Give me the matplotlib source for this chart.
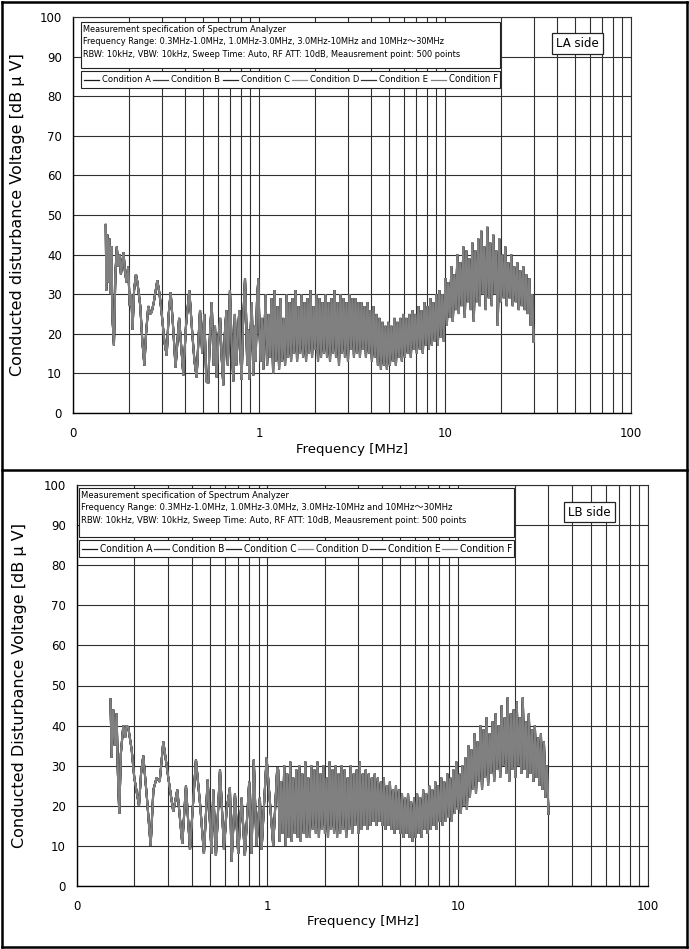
import numpy as np
import matplotlib
matplotlib.use("Agg")
import matplotlib.pyplot as plt
from matplotlib.ticker import FixedLocator, FixedFormatter, NullFormatter
from matplotlib.lines import Line2D
from matplotlib.patches import Rectangle

W, H, DPI = 689, 949, 100

conditions = ["Condition A", "Condition B", "Condition C",
              "Condition D", "Condition E", "Condition F"]
cond_colors = ["#1a1a1a", "#3c3c3c", "#262626", "#8c8c8c", "#333333", "#808080"]

x_ticks = [0.1, 1, 10, 100]
x_tick_labels = ["0", "1", "10", "100"]
y_ticks = list(range(0, 101, 10))

spec_lines = ["Measurement specification of Spectrum Analyzer",
              "Frequency Range: 0.3MHz-1.0MHz, 1.0MHz-3.0MHz, 3.0MHz-10MHz and 10MHz\uff5e30MHz",
              "RBW: 10kHz, VBW: 10kHz, Sweep Time: Auto, RF ATT: 10dB, Meausrement point: 500 points"]

# ---------------- LA side: low-frequency part (turning points, MHz / dBuV)
la_low_freq = [0.150, 0.151, 0.153, 0.155, 0.157, 0.159, 0.161, 0.163, 0.166, 0.169,
               0.172, 0.175, 0.178, 0.181, 0.184, 0.187, 0.190, 0.194, 0.198, 0.202,
               0.206, 0.209, 0.213, 0.218, 0.222, 0.226, 0.230, 0.236, 0.242, 0.247,
               0.254, 0.260, 0.265, 0.272, 0.284, 0.292, 0.300, 0.310, 0.319, 0.327,
               0.335, 0.345, 0.356, 0.372, 0.392, 0.405, 0.422, 0.438, 0.450, 0.462,
               0.472, 0.482, 0.495, 0.508, 0.521, 0.534, 0.545, 0.557, 0.570, 0.580,
               0.592, 0.605, 0.618, 0.630, 0.643, 0.655, 0.668, 0.680, 0.698, 0.712,
               0.728, 0.742, 0.755, 0.770, 0.784, 0.796, 0.807, 0.820, 0.841, 0.852,
               0.864, 0.876, 0.887, 0.900, 0.914, 0.932, 0.945, 0.960, 0.975, 0.992,
               1.005, 1.020, 1.040, 1.055, 1.070]
la_low_db = [47.5, 31, 45, 33, 44, 30, 42, 24, 17, 35,
             42, 37, 40, 35, 38, 40.5, 36, 33, 37, 27,
             30, 21, 31, 35, 33, 30, 27, 18, 12, 20,
             27, 25, 25.5, 28, 33.5, 30, 25, 18, 14.5, 25,
             30.5, 22, 11.5, 24, 9.5, 22, 31, 20, 13, 9,
             18, 26, 15, 25, 8, 7.5, 20, 28, 12, 22,
             9, 19, 24, 14, 7, 20, 26, 12, 31, 18,
             8, 25, 12, 20, 26, 14, 8.5, 22, 34, 25,
             12, 21, 8.5, 20, 28, 9.5, 22, 13, 28, 34,
             22, 13, 24, 11, 21]
# LA side: dense part 1.085-30 MHz, successive peaks and troughs
la_dense_range = (1.085, 30.0)
la_peaks = [30, 25, 29, 31, 27, 29, 24, 30, 28, 29,
            31, 27, 30, 28, 29, 31, 27, 30, 29, 28,
            30, 28, 29, 31, 28, 30, 29, 28, 30, 29,
            29, 28, 28, 27, 28, 26, 27, 25, 24, 23,
            22, 23, 22, 24, 23, 24, 25, 24, 25, 26,
            25, 27, 26, 28, 27, 29, 28, 30, 31, 30,
            34, 33, 37, 35, 40, 38, 42, 41, 39, 43,
            41, 44, 46, 42, 47, 43, 45, 41, 44, 40,
            42, 38, 40, 37, 38, 36, 37, 35, 34, 30]
la_troughs = [12, 14, 10, 13, 11, 13, 12, 14, 13, 15,
              13, 15, 14, 13, 15, 14, 16, 13, 14, 15,
              14, 13, 15, 14, 12, 15, 14, 13, 16, 14,
              15, 14, 16, 14, 15, 13, 14, 12, 11, 12,
              11, 12, 13, 12, 14, 13, 14, 15, 14, 16,
              15, 16, 15, 17, 16, 17, 18, 17, 19, 18,
              22, 24, 23, 26, 25, 27, 24, 28, 26, 23,
              28, 27, 30, 26, 29, 27, 30, 22, 28, 29,
              27, 29, 27, 28, 26, 27, 26, 25, 22, 18]

# ---------------- LB side
lb_low_freq = [0.150, 0.152, 0.155, 0.158, 0.1615, 0.164, 0.1668, 0.170, 0.1751, 0.1790,
               0.1823, 0.186, 0.1937, 0.200, 0.2117, 0.217, 0.2230, 0.233, 0.2437, 0.252,
               0.2620, 0.272, 0.2841, 0.3018, 0.3206, 0.3365, 0.3574, 0.3737, 0.3923, 0.4217,
               0.4440, 0.4645, 0.4857, 0.5097, 0.520, 0.537, 0.564, 0.592, 0.611, 0.636,
               0.649, 0.676, 0.703, 0.733, 0.762, 0.803, 0.826, 0.849, 0.877, 0.914,
               0.933, 0.991, 1.074, 1.127]
lb_low_db = [46.5, 32, 44, 35, 43, 28, 18, 33, 40, 37,
             40, 39.5, 34, 27, 20, 28, 32.5, 22, 10, 24,
             27, 26, 36, 27, 18.5, 24, 10.5, 25, 9, 31.5,
             20, 8, 26.5, 8, 24, 7.5, 29, 9, 19, 24.5,
             6, 23, 8, 22, 7.5, 26, 8, 31.5, 10, 22,
             9, 32, 10, 29.5]
lb_dense_range = (1.14, 30.0)
lb_peaks = [29, 26, 30, 28, 31, 27, 29, 30, 28, 31,
            27, 30, 29, 31, 28, 30, 27, 31, 29, 30,
            28, 30, 29, 27, 30, 28, 29, 31, 28, 29,
            28, 27, 28, 27, 26, 27, 25, 26, 24, 25,
            24, 23, 22, 23, 21, 22, 23, 22, 24, 23,
            25, 24, 26, 25, 27, 26, 28, 27, 29, 31,
            28, 30, 32, 35, 34, 38, 36, 40, 39, 42,
            38, 41, 43, 40, 45, 42, 47, 43, 44, 46,
            42, 47, 41, 43, 39, 40, 37, 38, 36, 30]
lb_troughs = [11, 13, 10, 12, 11, 13, 12, 11, 13, 12,
              12, 14, 13, 12, 14, 13, 12, 14, 13, 12,
              13, 14, 12, 14, 13, 15, 13, 14, 15, 14,
              15, 16, 15, 16, 15, 14, 15, 14, 13, 14,
              13, 12, 13, 12, 11, 12, 13, 12, 14, 13,
              14, 15, 14, 16, 15, 16, 17, 16, 18, 19,
              18, 20, 19, 22, 24, 23, 26, 24, 27, 25,
              28, 26, 29, 27, 30, 28, 26, 29, 27, 30,
              28, 29, 27, 28, 26, 27, 25, 24, 22, 18]

panels = [
    dict(ax_px=(73, 631, 17, 413), side="LA side",
         ylabel="Conducted disturbance Voltage [dB \u03bc V]",
         box=(81, 500, 22, 68), leg=(81, 500, 71, 88), sidebox=(552, 603, 33, 54),
         low_f=la_low_freq, low_v=la_low_db, rng=la_dense_range,
         peaks=la_peaks, troughs=la_troughs, ylab_x=18, xlab_y=449),
    dict(ax_px=(77, 648, 485, 886), side="LB side",
         ylabel="Conducted Disturbance Voltage [dB \u03bc V]",
         box=(79, 514, 488, 537), leg=(79, 514, 540, 557), sidebox=(564, 615, 502, 522),
         low_f=lb_low_freq, low_v=lb_low_db, rng=lb_dense_range,
         peaks=lb_peaks, troughs=lb_troughs, ylab_x=20, xlab_y=922),
]

NARROW = ["DejaVu Sans", "Noto Sans CJK JP"]

fig = plt.figure(figsize=(W / DPI, H / DPI), dpi=DPI)
renderer = fig.canvas.get_renderer()


def fx(x):
    return x / W


def fy(y):
    return 1 - y / H


def frame(x0, x1, y0, y1, lw=0.8):
    fig.patches.append(Rectangle((fx(x0), fy(y1)), fx(x1) - fx(x0), fy(y0) - fy(y1),
                                 transform=fig.transFigure, facecolor="white",
                                 edgecolor="#222222", linewidth=lw, zorder=5))


def fit_text(txt, target_px):
    w = txt.get_window_extent(renderer).width
    txt.set_fontsize(txt.get_fontsize() * target_px / w)


for p in panels:
    l, r, t, b = p["ax_px"]
    ax = fig.add_axes([fx(l), fy(b), fx(r) - fx(l), fy(t) - fy(b)])
    ax.set_xscale("log")
    ax.set_xlim(0.1, 100)
    ax.set_ylim(0, 100)
    ax.xaxis.set_major_locator(FixedLocator(x_ticks))
    ax.xaxis.set_major_formatter(FixedFormatter(x_tick_labels))
    minors = [m * d for d in (0.1, 1, 10) for m in range(2, 10)]
    ax.xaxis.set_minor_locator(FixedLocator(minors))
    ax.xaxis.set_minor_formatter(NullFormatter())
    ax.set_yticks(y_ticks)
    ax.tick_params(which="both", length=0, labelsize=8.5)
    ax.tick_params(axis="x", pad=10)
    ax.tick_params(axis="y", pad=8)
    ax.grid(True, which="both", axis="x", color="#303030", linewidth=0.8)
    ax.grid(True, which="major", axis="y", color="#303030", linewidth=0.8)
    ax.set_axisbelow(True)
    for s in ax.spines.values():
        s.set_color("#303030")
        s.set_linewidth(0.8)
    ax.spines["left"].set_color("black")
    ax.spines["bottom"].set_color("black")
    ax.spines["left"].set_linewidth(1.0)
    ax.spines["bottom"].set_linewidth(1.0)

    vals = np.empty(2 * len(p["peaks"]))
    vals[0::2] = p["peaks"]
    vals[1::2] = p["troughs"]
    fd = np.geomspace(p["rng"][0], p["rng"][1], len(vals))
    f_all = np.concatenate([p["low_f"], fd])
    v_all = np.concatenate([p["low_v"], vals])
    order = [0, 2, 4, 1, 3, 5]
    for z, i in enumerate(order):
        dark = cond_colors[i] in ("#1a1a1a", "#262626", "#333333", "#3c3c3c")
        ax.plot(f_all, v_all, color=cond_colors[i], linewidth=1.45 if dark else 1.25,
                label=conditions[i], zorder=2 + z, solid_joinstyle="miter")

    fig.text(fx(p["ylab_x"]), fy((t + b) / 2), p["ylabel"], rotation=90,
             ha="center", va="center", fontsize=11.5)
    fig.text(fx((l + r) / 2), fy(p["xlab_y"]), "Frequency [MHz]",
             ha="center", va="center", fontsize=9.5)

    # spec box
    bx0, bx1, by0, by1 = p["box"]
    frame(bx0, bx1, by0, by1)
    spec_txts = []
    for k, line in enumerate(spec_lines):
        spec_txts.append(fig.text(fx(bx0 + 2), fy(by0 + 7.5 + k * 12.5), line,
                                  ha="left", va="center", fontsize=7.5,
                                  family=NARROW, fontstretch="condensed", zorder=6))
    fit_text(spec_txts[2], (bx1 - bx0) * 0.888)
    for tx in spec_txts[:2]:
        tx.set_fontsize(spec_txts[2].get_fontsize())
    fsz = spec_txts[2].get_fontsize()
    # legend box
    lx0, lx1, ly0, ly1 = p["leg"]
    frame(lx0, lx1, ly0, ly1)
    pitch = (lx1 - lx0 - 3) / 6.0
    yc = (ly0 + ly1) / 2
    for k, (name, col) in enumerate(zip(conditions, cond_colors)):
        x0 = lx0 + 3 + k * pitch
        fig.lines.append(Line2D([fx(x0), fx(x0 + 15)], [fy(yc), fy(yc)],
                                transform=fig.transFigure, color=col,
                                linewidth=0.9, zorder=6))
        tx = fig.text(fx(x0 + 18), fy(yc), name, ha="left", va="center",
                      fontsize=fsz, family=NARROW, fontstretch="condensed", zorder=6)
        fit_text(tx, pitch - 20)
    # side box
    sx0, sx1, sy0, sy1 = p["sidebox"]
    frame(sx0, sx1, sy0, sy1, lw=0.9)
    fig.text(fx((sx0 + sx1) / 2), fy((sy0 + sy1) / 2), p["side"], ha="center",
             va="center", fontsize=8.5, zorder=6)

# outer borders
for (xa, ya, xb, yb) in [(2, 2, 687, 2), (2, 2, 2, 947), (687, 2, 687, 947),
                         (2, 947, 687, 947), (2, 470, 687, 470)]:
    fig.lines.append(Line2D([fx(xa), fx(xb)], [fy(ya), fy(yb)],
                            transform=fig.transFigure, color="black", linewidth=1.8))

fig.savefig("out.png", dpi=DPI)
